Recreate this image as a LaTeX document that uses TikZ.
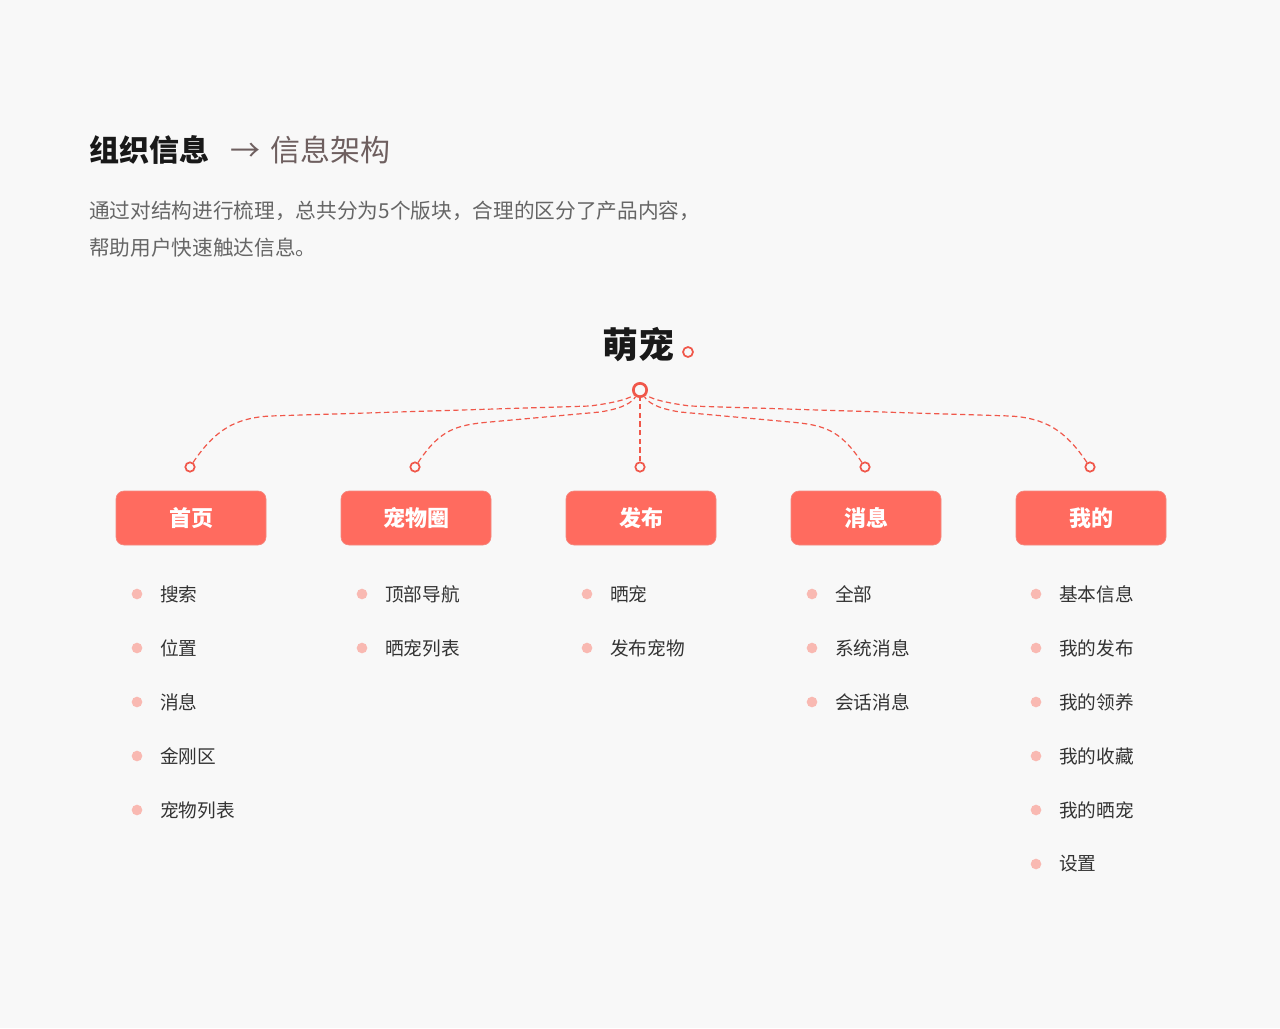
\documentclass[tikz,border=0pt]{standalone}
\usepackage{fontspec}
\setmainfont{Noto Sans CJK SC}
\newfontfamily\cjk{Noto Sans CJK SC}
\definecolor{bg}{HTML}{F8F8F8}
\definecolor{boxred}{HTML}{FF6B5F}
\definecolor{lred}{HTML}{F0574A}
\definecolor{dotc}{HTML}{F9B9B2}
\definecolor{tgrey}{HTML}{666666}
\definecolor{tdark}{HTML}{333333}
\definecolor{tbrown}{HTML}{6E5F5F}
\tikzset{
 catbox/.style={fill=boxred,draw=lred!70,line width=0.5pt,rounded corners=6pt,minimum width=112.5pt,minimum height=40.5pt,text=white,font=\fontsize{16.5}{16.5}\selectfont\bfseries},
 conn/.style={draw=lred,dashed,dash pattern=on 4pt off 2.5pt,line width=0.9pt},
 leaf/.style={circle,draw=lred,line width=1.3pt,fill=bg,inner sep=0pt,minimum size=7pt},
 item/.style={anchor=west,text=tdark,font=\fontsize{14}{14}\selectfont,inner sep=0pt},
 bul/.style={circle,fill=dotc,inner sep=0pt,minimum size=8pt},
}
\begin{document}
\begin{tikzpicture}[x=0.75pt,y=-0.75pt]
\fill[bg] (0,0) rectangle (1280,1028);
\useasboundingbox (0,0) rectangle (1280,1028);
\node[anchor=west,inner sep=0pt,font=\fontsize{22.5}{22.5}\selectfont\bfseries,text=black!90] (t1) at (89,150) {组织信息};
\node[anchor=west,inner sep=0pt,font=\fontsize{22.5}{22.5}\selectfont,text=tbrown] (t2) at (230,150) {→\hspace{0.35em}信息架构};
\node[anchor=west,inner sep=0pt,font=\fontsize{15.5}{15.5}\selectfont,text=tgrey] (p1) at (89,211) {通过对结构进行梳理，总共分为5个版块，合理的区分了产品内容，};
\node[anchor=west,inner sep=0pt,font=\fontsize{15.5}{15.5}\selectfont,text=tgrey] (p2) at (89,248) {帮助用户快速触达信息。};
\node[inner sep=0pt,font=\fontsize{27}{27}\selectfont\bfseries,text=black!90] (title) at (638,345) {萌宠};
\node[leaf,minimum size=7.5pt] (tdot) at (688,352) {};
\node[circle,draw=lred,line width=2pt,fill=bg,inner sep=0pt,minimum size=10pt] (root) at (640,390) {};
\foreach \n/\x/\t in {a/190/首页,b/415/宠物圈,c/640/发布,d/865/消息,e/1090/我的}{
  \node[leaf] (l\n) at (\x,467) {};
  \node[catbox] (c\n) at (\x+1,518) {\t};
}
\coordinate (pa1) at (270,416); \coordinate (pa2) at (590,406);
\coordinate (pb1) at (490,422); \coordinate (pb2) at (600,412);
\coordinate (pd1) at (790,422); \coordinate (pd2) at (680,412);
\coordinate (pe1) at (1010,416); \coordinate (pe2) at (690,406);
\draw[conn] (la) .. controls (215,430) and (235,418) .. (pa1) -- (pa2) .. controls (620,402) and (630,398) .. (root);
\draw[conn] (lb) .. controls (440,430) and (455,425) .. (pb1) -- (pb2) .. controls (625,408) and (632,402) .. (root);
\draw[conn] (lc) -- (root);
\draw[conn] (ld) .. controls (840,430) and (825,425) .. (pd1) -- (pd2) .. controls (655,408) and (648,402) .. (root);
\draw[conn] (le) .. controls (1065,430) and (1045,418) .. (pe1) -- (pe2) .. controls (660,402) and (650,398) .. (root);
\foreach \col/\x/\lst in {a/137/{搜索,位置,消息,金刚区,宠物列表},b/362/{顶部导航,晒宠列表},c/587/{晒宠,发布宠物},d/812/{全部,系统消息,会话消息},e/1036/{基本信息,我的发布,我的领养,我的收藏,我的晒宠,设置}}{
  \foreach \s [count=\i] in \lst {
    \node[bul] (b\col\i) at (\x,540+54*\i) {};
    \node[item] (i\col\i) at (\x+23,540+54*\i) {\s};
  }
}
\end{tikzpicture}
\end{document}
